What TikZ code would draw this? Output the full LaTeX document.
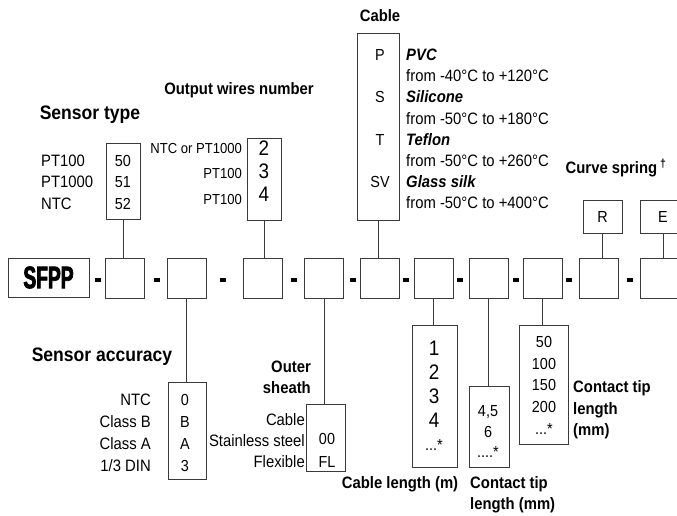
\documentclass[tikz,border=0pt]{standalone}
\usepackage{fontspec}
\setmainfont{Liberation Sans}[FakeStretch=0.9]
\newfontfamily\logofont{Liberation Sans}[FakeStretch=0.62,BoldFeatures={FakeBold=2.5}]
\usetikzlibrary{positioning}
\definecolor{BoxGrey}{HTML}{3A3A3A}

\begin{document}
\begin{tikzpicture}[x=1pt, y=-1pt,
    every node/.style={inner sep=0pt, text=black},
    slot/.style={rectangle, draw=BoxGrey, line width=0.8pt, minimum width=39pt, minimum height=40pt},
    optbox/.style={rectangle, draw=BoxGrey, line width=0.8pt},
    title/.style={font=\fontsize{16.5}{21.5}\selectfont\bfseries},
    bigtitle/.style={font=\fontsize{19.5}{24}\selectfont\bfseries},
    lbl/.style={font=\fontsize{16.5}{21.5}\selectfont},
    val/.style={font=\fontsize{16}{21.5}\selectfont, align=center},
    bigval/.style={font=\fontsize{21}{24}\selectfont, align=center},
    sep/.style={fill=black, minimum width=6.5pt, minimum height=3.5pt},
    link/.style={draw=BoxGrey, line width=0.8pt}
  ]
    \useasboundingbox (0,0) rectangle (677,516);
    \newcommand{\more}[1]{#1\raisebox{0.05em}{\fontsize{16}{16}\selectfont*}}

    % code row
    \node[slot, minimum width=81pt, minimum height=39pt] (sfpp) at (48.5,277.5) {\logofont\bfseries\fontsize{31}{31}\selectfont SFPP};
    \foreach \i/\x in {1/125,2/186.5,3/262.5,4/324,5/379.5,6/433.5,7/488.5,8/542.5,9/598.5,10/659.5}
      \node[slot] (b\i) at (\x,278) {};
    \foreach \i/\x in {1/98,2/157,3/223,4/294,5/353,6/406,7/460,8/516,9/569,10/630}
      \node[sep] (d\i) at (\x,280) {};

    % sensor type
    \node[optbox, minimum width=34pt, minimum height=76pt] (st) at (123,181) {};
    \node[val] (stv) at (123,182) {50\\51\\52};
    \node[lbl, anchor=west, align=left] (stl) at (41,182) {PT100\\PT1000\\NTC};
    \node[bigtitle] (stt) at (90,115) {Sensor type};
    \draw[link] (st.south) -- (st.south |- b1.north);

    % output wires
    \node[optbox, minimum width=34pt, minimum height=82pt] (ow) at (264,179) {};
    \node[bigval, font=\fontsize{21}{23}\selectfont] (owv) at (264,171) {2\\3\\4};
    \node[lbl, font=\fontsize{14.5}{25.5}\selectfont, anchor=east, align=right] (owl) at (242,174) {NTC or PT1000\\PT100\\PT100};
    \node[title] (owt) at (239,90) {Output wires number};
    \draw[link] (ow.south) -- (ow.south |- b3.north);

    % cable
    \node[optbox, minimum width=42pt, minimum height=187pt] (cb) at (378,126.5) {};
    \node[val, font=\fontsize{16}{42.3}\selectfont] (cbv) at (380,118.5) {P\\S\\T\\SV};
    \node[lbl, font=\fontsize{16.5}{21.15}\selectfont, anchor=west, align=left] (cbl) at (406,129) {\textbf{\textit{PVC}}\\from -40°C to +120°C\\\textbf{\textit{Silicone}}\\from -50°C to +180°C\\\textbf{\textit{Teflon}}\\from -50°C to +260°C\\\textbf{\textit{Glass silk}}\\from -50°C to +400°C};
    \node[title] (cbt) at (380,16) {Cable};
    \draw[link] (cb.south) -- (cb.south |- b5.north);

    % curve spring
    \node[optbox, minimum width=39pt, minimum height=33pt, font=\fontsize{16}{16}\selectfont] (r) at (602.5,216.5) {R};
    \node[optbox, minimum width=46pt, minimum height=33pt, font=\fontsize{16}{16}\selectfont] (e) at (663,216.5) {E};
    \node[title] (cst) at (616,168) {Curve spring\,\textsuperscript{†}};
    \draw[link] (r.south) -- (r.south |- b9.north);
    \draw[link] (e.south) -- (e.south |- b10.north);

    % sensor accuracy
    \node[optbox, minimum width=38pt, minimum height=97pt] (sa) at (187,430.5) {};
    \node[val, font=\fontsize{16}{22}\selectfont] (sav) at (185,433) {0\\B\\A\\3};
    \node[lbl, font=\fontsize{16.5}{22}\selectfont, anchor=east, align=right] (sal) at (151,433) {NTC\\Class B\\Class A\\1/3 DIN};
    \node[bigtitle] (sat) at (102,357) {Sensor accuracy};
    \draw[link] (b2.south) -- (b2.south |- sa.north);

    % outer sheath
    \node[optbox, minimum width=39pt, minimum height=67pt] (os) at (325.5,437.5) {};
    \node[val, font=\fontsize{16}{23}\selectfont] (osv) at (327,450.5) {00\\FL};
    \node[lbl, font=\fontsize{16.5}{21}\selectfont, anchor=east, align=right] (osl) at (305,441) {Cable\\Stainless steel\\Flexible};
    \node[title, anchor=east, align=right] (ost) at (311,377.5) {Outer\\sheath};
    \draw[link] (b4.south) -- (b4.south |- os.north);

    % cable length
    \node[optbox, minimum width=45pt, minimum height=142pt] (cl) at (434.5,396) {};
    \node[bigval] (clv) at (434,384) {1\\2\\3\\4};
    \node[val] (cld) at (434,445) {\more{...}};
    \node[title] (clt) at (400,484) {Cable length (m)};
    \draw[link] (b6.south) -- (b6.south |- cl.north);

    % contact tip, short
    \node[optbox, minimum width=40pt, minimum height=81pt] (cta) at (489,426.5) {};
    \node[val, font=\fontsize{16}{21}\selectfont] (ctav) at (488,422) {4,5\\6};
    \node[val] (ctad) at (488,452) {\more{....}};
    \node[title, anchor=west, align=left] (ctat) at (470,495) {Contact tip\\length (mm)};
    \draw[link] (b7.south) -- (b7.south |- cta.north);

    % contact tip, long
    \node[optbox, minimum width=49pt, minimum height=119pt] (ctb) at (543.5,384.5) {};
    \node[val, font=\fontsize{16}{21.7}\selectfont] (ctbv) at (544,374.5) {50\\100\\150\\200};
    \node[val] (ctbd) at (544,429) {\more{...}};
    \node[title, anchor=west, align=left] (ctbt) at (573,410) {Contact tip\\length\\(mm)};
    \draw[link] (b8.south) -- (b8.south |- ctb.north);
  \end{tikzpicture}
\end{document}
